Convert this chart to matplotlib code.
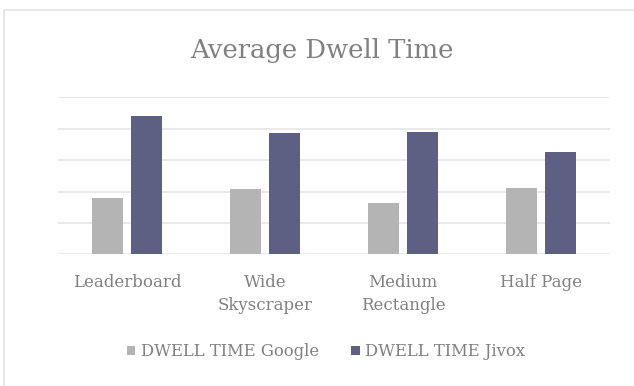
import matplotlib
matplotlib.use("Agg")
import matplotlib.pyplot as plt
from matplotlib.patches import Rectangle, Patch
import numpy as np

categories = ["Leaderboard", "Wide\nSkyscraper", "Medium\nRectangle", "Half Page"]
google = [1.78, 2.07, 1.64, 2.10]
jivox = [4.40, 3.85, 3.89, 3.26]
series_names = ["DWELL TIME Google", "DWELL TIME Jivox"]

FONT = ["DejaVu Serif"]
TXT = "#808080"
C_G = "#b4b4b4"
C_J = "#5d6083"
GRID = "#e3e3e3"

fig = plt.figure(figsize=(6.34, 3.86), dpi=100)
fig.patch.set_facecolor("white")

# outer chart border
fig.add_artist(Rectangle((3.5/634, -0.1), 1.2, (386-9.5)/386 + 0.1, transform=fig.transFigure,
                         fill=False, edgecolor="#e2e2e2", linewidth=1.2))

ax = fig.add_axes([58/634, (386-254.3)/386, 552/634, (254.3-97.3)/386])
x = np.arange(len(categories))
w = 0.222
off = 0.141
ax.bar(x - off, google, width=w, color=C_G, zorder=3, label=series_names[0])
ax.bar(x + off, jivox, width=w, color=C_J, zorder=3, label=series_names[1])

ax.set_xlim(-0.5, len(categories) - 0.5)
ax.set_ylim(0, 5)
ax.set_yticks(np.arange(0, 6, 1))
ax.set_yticklabels([])
ax.tick_params(axis="y", length=0)
ax.grid(axis="y", color=GRID, linewidth=1.1, zorder=0)
for s in ax.spines.values():
    s.set_visible(False)
ax.set_xticks(x)
ax.set_xticklabels(categories, fontsize=12, color=TXT, family=FONT, linespacing=1.42)
ax.tick_params(axis="x", length=0, pad=14.5)
ax.set_facecolor("white")

fig.text(322/634, 1 - 58/386, "Average Dwell Time", ha="center", va="baseline",
         fontsize=18.6, color=TXT, family=FONT)

handles = [Patch(facecolor=C_G), Patch(facecolor=C_J)]
leg = fig.legend(handles, series_names, loc="center", bbox_to_anchor=(326/634, 1 - 352/386),
                 ncol=2, frameon=False, handlelength=0.5, handleheight=0.5,
                 handletextpad=0.35, columnspacing=2.0,
                 prop={"family": FONT, "size": 11.8})
for t in leg.get_texts():
    t.set_color(TXT)

fig.savefig("out.png", dpi=100, facecolor="white")
